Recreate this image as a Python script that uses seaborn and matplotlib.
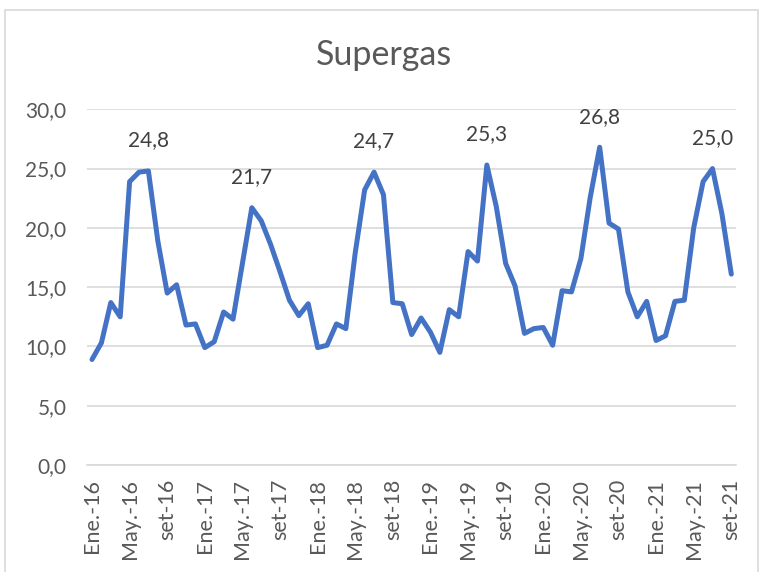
import matplotlib
matplotlib.use("Agg")
import matplotlib.pyplot as plt
from matplotlib.patches import Rectangle
import seaborn as sns
import pandas as pd
import numpy as np

# monthly values, Ene.-16 .. set-21
months = ["Ene.", "Feb.", "Mar.", "Abr.", "May.", "Jun.", "Jul.", "Ago.", "set", "Oct.", "Nov.", "Dic."]
years = ["16", "17", "18", "19", "20", "21"]

values = [
    8.9, 10.3, 13.7, 12.5, 23.9, 24.7, 24.8, 18.9, 14.5, 15.2, 11.8, 11.9,   # 2016
    9.9, 10.4, 12.9, 12.3, 17.0, 21.7, 20.6, 18.6, 16.3, 13.9, 12.6, 13.6,   # 2017
    9.9, 10.1, 11.9, 11.5, 17.9, 23.2, 24.7, 22.8, 13.7, 13.6, 11.0, 12.4,   # 2018
    11.2, 9.5, 13.1, 12.5, 18.0, 17.2, 25.3, 21.8, 17.0, 15.1, 11.1, 11.5,   # 2019
    11.6, 10.1, 14.7, 14.6, 17.4, 22.6, 26.8, 20.4, 19.9, 14.6, 12.5, 13.8,  # 2020
    10.5, 10.9, 13.8, 13.9, 20.0, 23.9, 25.0, 21.2, 16.1,                    # 2021
]
labels = [f"{m}-{y}" for y in years for m in months][:len(values)]
peak_idx = [6, 17, 30, 42, 54, 66]

df = pd.DataFrame({"idx": np.arange(len(values)), "valor": values})

sns.set_style("white")
plt.rcParams["font.family"] = ["Lato", "DejaVu Sans"]

fig = plt.figure(figsize=(7.59, 5.72), dpi=100)
ax = fig.add_axes([87.3 / 759, 1 - 465 / 572, (736 - 87.3) / 759, (465 - 109.3) / 572])

sns.lineplot(data=df, x="idx", y="valor", ax=ax, color="#4472C4", linewidth=3.6)

ax.set_xlim(-0.5, len(values) - 0.5)
ax.set_ylim(0, 30)
ax.set_yticks(np.arange(0, 31, 5))
ax.set_yticklabels([f"{v:.1f}".replace(".", ",") for v in np.arange(0, 31, 5)],
                   fontsize=15, color="#595959")
ax.yaxis.grid(True, color="#d9d9d9", linewidth=1.2)
ax.set_axisbelow(True)

xt = list(range(0, len(values), 4))
ax.set_xticks(xt)
ax.set_xticklabels([labels[i] for i in xt], rotation=90, fontsize=15.5, color="#595959")
ax.set_xticks([i - 0.5 for i in xt], minor=True)
ax.tick_params(axis="x", which="major", length=0, pad=10)
ax.tick_params(axis="x", which="minor", length=5, color="#d9d9d9", width=1.2)
ax.tick_params(axis="y", length=0, pad=15)
ax.set_xlabel("")
ax.set_ylabel("")

for s in ["top", "right", "left"]:
    ax.spines[s].set_visible(False)
ax.spines["bottom"].set_color("#d9d9d9")
ax.spines["bottom"].set_linewidth(1.2)

for i in peak_idx:
    ax.annotate(f"{values[i]:.1f}".replace(".", ","), (i, values[i]),
                xytext=(0, 22), textcoords="offset points",
                ha="center", va="center", fontsize=15, color="#404040")

fig.text(384 / 759, 1 - 55 / 572, "Supergas", ha="center", va="center",
         fontsize=24.5, color="#595959")

fig.add_artist(Rectangle((5 / 759, -0.02), (757.5 - 5) / 759, 1.02 - 10 / 572,
                         transform=fig.transFigure, fill=False,
                         edgecolor="#d9d9d9", linewidth=1.2))

fig.savefig("out.png", dpi=100)
